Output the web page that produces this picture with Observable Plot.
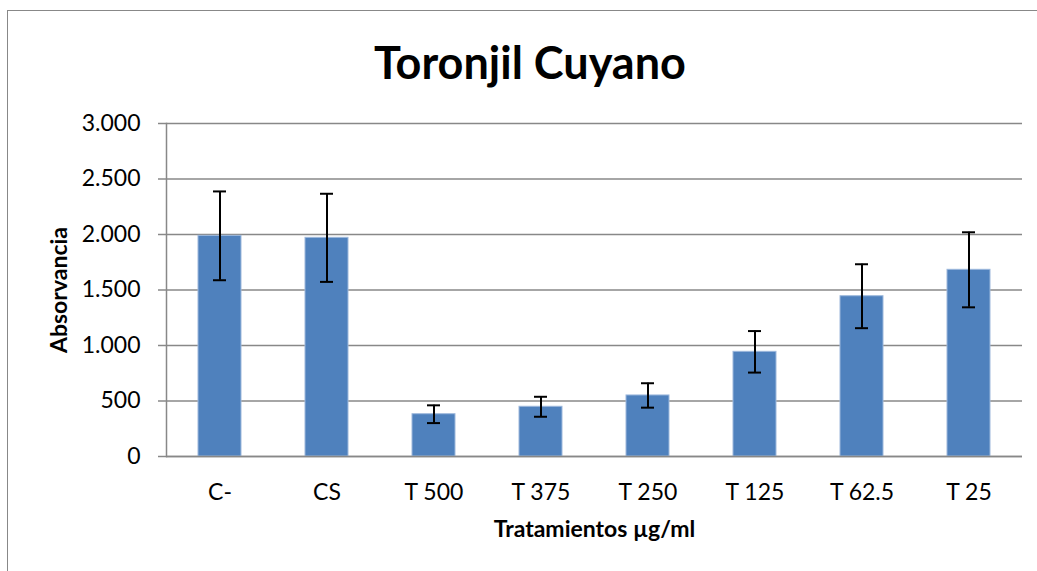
<!DOCTYPE html>
<html>
<head>
<meta charset="utf-8">
<script src="https://cdn.jsdelivr.net/npm/d3@7"></script>
<script src="https://cdn.jsdelivr.net/npm/@observablehq/plot@0.6"></script>
<style>
  html, body { margin: 0; padding: 0; background: #fff; }
  #wrap { position: relative; width: 1037px; height: 571px; overflow: hidden; }
  #frame { position: absolute; left: 7px; top: 10px; width: 1100px; height: 640px;
           border-left: 1.5px solid #888; border-top: 1.5px solid #888; box-sizing: border-box; }
  #title { position: absolute; left: 0; width: 1060px; top: 35px; text-align: center;
           font-family: Lato, "Open Sans", sans-serif; font-weight: bold; font-size: 45px; line-height: 54px; color: #000; }
  #chart { position: absolute; left: 0; top: 0; }
</style>
</head>
<body>
<div id="wrap">
  <div id="frame"></div>
  <div id="title"></div>
  <div id="chart"></div>
</div>
<script>
const titleText = "Toronjil Cuyano";
const xTitle = "Tratamientos µg/ml";
const yTitle = "Absorvancia";
const categories = ["C-", "CS", "T 500", "T 375", "T 250", "T 125", "T 62.5", "T 25"];
const means = [1988, 1970, 381, 448, 550, 943, 1444, 1682];
const errors = [400, 397, 80, 90, 110, 187, 288, 338];
const yTicks = [0, 500, 1000, 1500, 2000, 2500, 3000];

const data = categories.map((c, i) => ({cat: c, mean: means[i], err: errors[i]}));
const locale = d3.formatLocale({decimal: ",", thousands: ".", grouping: [3], currency: ["", "€"]});
const fmt = locale.format(",d");

document.getElementById("title").textContent = titleText;

const chart = Plot.plot({
  width: 1037,
  height: 571,
  marginLeft: 166,
  marginRight: 15,
  marginTop: 123,
  marginBottom: 115,
  style: {fontFamily: "Lato, 'Open Sans', sans-serif", fontSize: "23px", color: "#000", background: "transparent"},
  x: {domain: categories, paddingInner: 0.6, paddingOuter: 0.3},
  y: {domain: [0, 3000]},
  marks: [
    Plot.gridY(yTicks, {stroke: "#888", strokeOpacity: 1, strokeWidth: 1.5}),
    Plot.frame({anchor: "left", stroke: "#888", strokeWidth: 1.5}),
    Plot.barY(data, {x: "cat", y: "mean", fill: "#4F81BD", stroke: "#9DB8DC", strokeWidth: 1}),
    Plot.ruleX(data, {x: "cat", y1: d => d.mean - d.err, y2: d => d.mean + d.err, stroke: "#000", strokeWidth: 2}),
    Plot.tickY(data, {x: "cat", y: d => d.mean - d.err, stroke: "#000", strokeWidth: 2, insetLeft: 15, insetRight: 15}),
    Plot.tickY(data, {x: "cat", y: d => d.mean + d.err, stroke: "#000", strokeWidth: 2, insetLeft: 15, insetRight: 15}),
    Plot.axisY({ticks: yTicks, tickFormat: fmt, tickSize: 8, tickPadding: 18, stroke: "#888", strokeWidth: 1.5,
                fill: "#000", fontSize: 23,
                label: yTitle, labelArrow: "none", labelAnchor: "center", labelOffset: 116}),
    Plot.axisX({tickSize: 0, tickPadding: 27, fill: "#000", fontSize: 23,
                label: xTitle, labelArrow: "none", labelAnchor: "center", labelOffset: 80}),
    Plot.ruleY([0], {stroke: "#888", strokeWidth: 1.5})
  ]
});
// bold axis titles
chart.querySelectorAll("g[aria-label='y-axis label'] text, g[aria-label='x-axis label'] text").forEach(t => {
  t.setAttribute("font-weight", "bold");
  t.setAttribute("font-size", "23");
});
document.getElementById("chart").appendChild(chart);
</script>
</body>
</html>
